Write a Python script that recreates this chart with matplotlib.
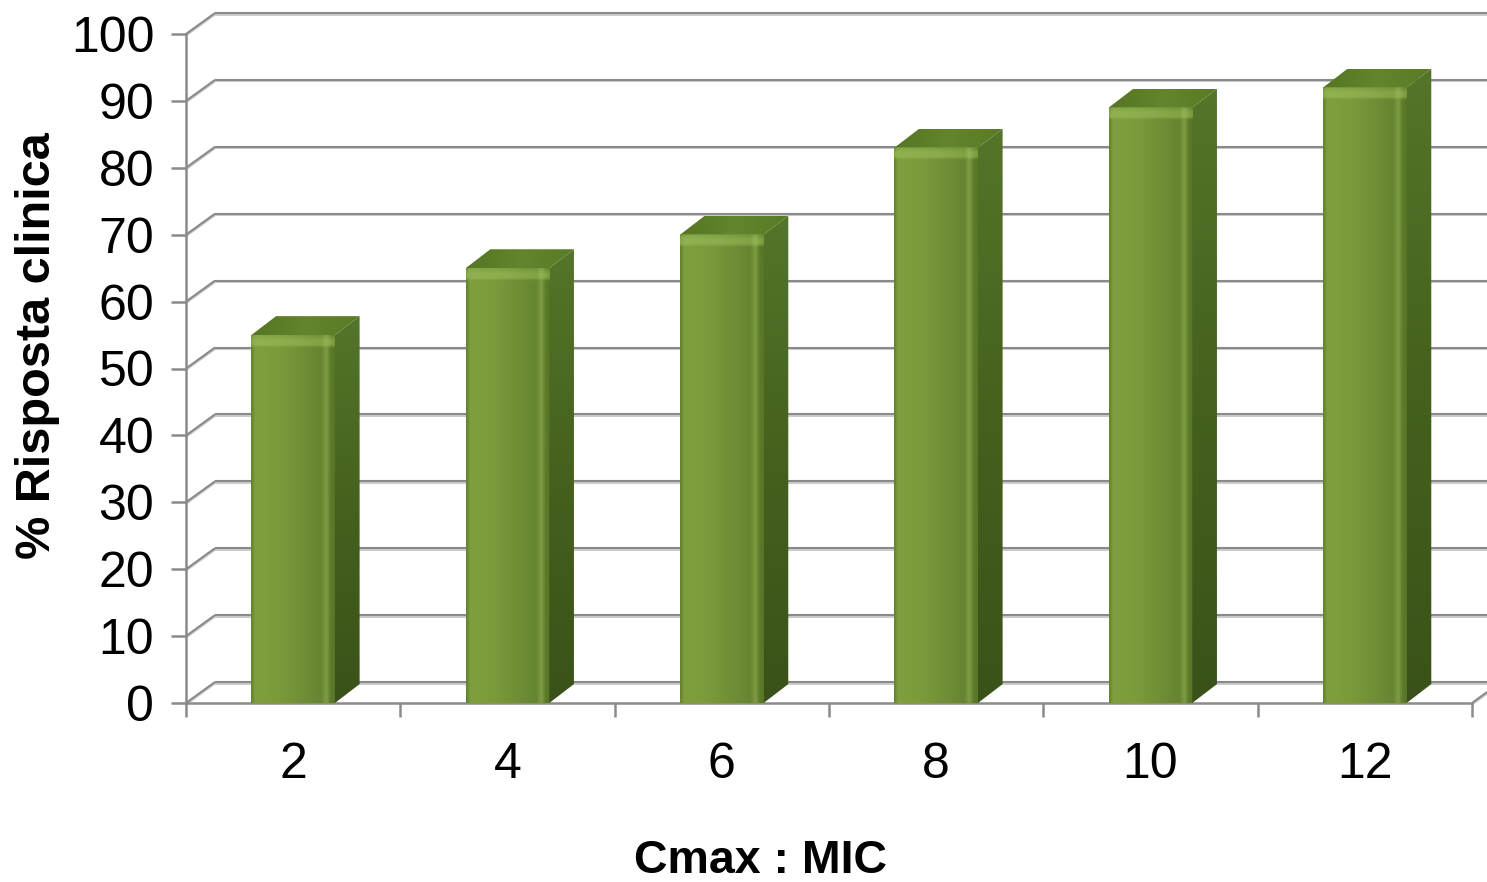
import numpy as np
import matplotlib
matplotlib.use("Agg")
import matplotlib.pyplot as plt
import matplotlib.transforms as mtransforms
from matplotlib.patches import Polygon
from matplotlib.colors import to_rgb

# Data
ratios = ["2", "4", "6", "8", "10", "12"]
response = [55, 65, 70, 83, 89, 92]
y_ticks = [0, 10, 20, 30, 40, 50, 60, 70, 80, 90, 100]

plt.rcParams["font.family"] = ["Liberation Sans", "DejaVu Sans"]

W, H, DPI = 1487, 882, 100
fig = plt.figure(figsize=(W / DPI, H / DPI), dpi=DPI)
fig.patch.set_facecolor("white")

ax = fig.add_axes([186 / W, 1 - 703 / H, (1472 - 186) / W, (703 - 34) / H])
n = len(ratios)
ax.set_xlim(-0.5, n - 0.5)
ax.set_ylim(0, 100)
ax.set_facecolor("none")

grid_c = "#8a8a8a"
grid_light = "#c6c6c6"
lw = 1.5
shadow = ax.transData + mtransforms.ScaledTranslation(0, -1.6 / DPI, fig.dpi_scale_trans)

# depth of the 3D box (inches) converted to data units
depth_in = (0.29, 0.21)
px_x = ax.bbox.width / n
px_y = ax.bbox.height / 100.0
ddx = depth_in[0] * DPI / px_x
ddy = depth_in[1] * DPI / px_y


def wall_line(xs, ys):
    ax.plot(xs, ys, color=grid_light, lw=1.3, clip_on=False, zorder=0.9,
            transform=shadow, solid_capstyle="butt")
    ax.plot(xs, ys, color=grid_c, lw=lw, clip_on=False, zorder=1,
            solid_capstyle="butt")


# back wall gridlines and left wall diagonals
for v in y_ticks:
    wall_line([-0.5 + ddx, n - 0.5 + ddx + 0.2], [v + ddy, v + ddy])
    wall_line([-0.5, -0.5 + ddx], [v, v + ddy])
# floor right edge
wall_line([n - 0.5, n - 0.5 + ddx], [0, ddy])


def gradient_image(colors, positions, horizontal=True, N=256):
    t = np.linspace(0, 1, N)
    cols = np.array([to_rgb(c) for c in colors])
    arr = np.stack([np.interp(t, positions, cols[:, k]) for k in range(3)], axis=-1)
    if horizontal:
        return arr[np.newaxis, :, :]
    return arr[::-1][:, np.newaxis, :]


bar_w = 0.39
bdx, bdy = ddx * 0.85, ddy * 0.9

front_cols = ["#62812c", "#7e9e40", "#7a9a3c", "#6e8d35", "#668530", "#7e9d43", "#5d7c2a", "#577526"]
front_pos = [0.0, 0.05, 0.35, 0.65, 0.84, 0.9, 0.95, 1.0]
side_cols = ["#3a5219", "#45611d", "#55752a"]
side_pos = [0.0, 0.5, 1.0]
top_cols = ["#557523", "#63852c", "#5a7a26"]
top_pos = [0.0, 0.5, 1.0]

# highlight band: horizontal colour profile with a vertical alpha profile
hl_rgb = gradient_image(["#8aab4a", "#93b454", "#8eaf4f", "#86a748", "#96b657", "#7c9c3f"],
                        [0.0, 0.05, 0.5, 0.84, 0.9, 1.0])[0]
alpha_v = np.interp(np.linspace(0, 1, 32), [0, 0.25, 0.6, 1.0], [0.0, 0.9, 0.9, 0.35])[::-1]
hl_img = np.concatenate([np.repeat(hl_rgb[np.newaxis], 32, axis=0),
                         alpha_v[:, np.newaxis, np.newaxis] * np.ones((32, hl_rgb.shape[0], 1))],
                        axis=-1)

for i, v in enumerate(response):
    x0, x1 = i - bar_w / 2, i + bar_w / 2
    # front face
    ax.imshow(gradient_image(front_cols, front_pos), extent=(x0, x1, 0, v),
              aspect="auto", zorder=3, interpolation="bilinear")
    # soft bevel highlight along the top edge of the front face
    ax.imshow(hl_img, extent=(x0, x1, v - 1.9, v), aspect="auto", zorder=3.2,
              interpolation="bilinear")
    # side face
    side = Polygon([(x1, 0), (x1 + bdx, bdy), (x1 + bdx, v + bdy), (x1, v)],
                   closed=True, transform=ax.transData, facecolor="none", edgecolor="none")
    ax.add_patch(side)
    im = ax.imshow(gradient_image(side_cols, side_pos, horizontal=False),
                   extent=(x1, x1 + bdx, 0, v + bdy), aspect="auto", zorder=3,
                   interpolation="bilinear")
    im.set_clip_path(side)
    # top face
    top = Polygon([(x0, v), (x1, v), (x1 + bdx, v + bdy), (x0 + bdx, v + bdy)],
                  closed=True, transform=ax.transData, facecolor="none", edgecolor="none")
    ax.add_patch(top)
    im2 = ax.imshow(gradient_image(top_cols, top_pos), extent=(x0, x1 + bdx, v, v + bdy),
                    aspect="auto", zorder=3, interpolation="bilinear")
    im2.set_clip_path(top)

ax.set_xlim(-0.5, n - 0.5)
ax.set_ylim(0, 100)

# spines and ticks
for s in ["top", "right"]:
    ax.spines[s].set_visible(False)
for s in ["left", "bottom"]:
    ax.spines[s].set_color(grid_c)
    ax.spines[s].set_linewidth(lw + 0.3)
    ax.spines[s].set_zorder(2)

ax.set_yticks(y_ticks)
ax.set_yticklabels([str(t) for t in y_ticks])
ax.tick_params(axis="y", direction="out", length=10.8, width=lw + 0.3, color=grid_c,
               labelsize=36, pad=12, labelcolor="black")

ax.set_xticks(range(n))
ax.set_xticklabels(ratios)
ax.set_xticks(np.arange(-0.5, n, 1.0), minor=True)
ax.tick_params(axis="x", which="major", length=0, labelsize=36, pad=28, labelcolor="black")
ax.tick_params(axis="x", which="minor", direction="out", length=10, width=lw + 0.3, color=grid_c)

fig.text(761 / W, 1 - 861 / H, "Cmax : MIC", ha="center", va="center",
         fontsize=33.5, fontweight="bold")
fig.text(38 / W, 1 - 346 / H, "% Risposta clinica", ha="center", va="center",
         rotation=90, fontsize=35, fontweight="bold")

fig.savefig("out.png", dpi=DPI, facecolor="white")
